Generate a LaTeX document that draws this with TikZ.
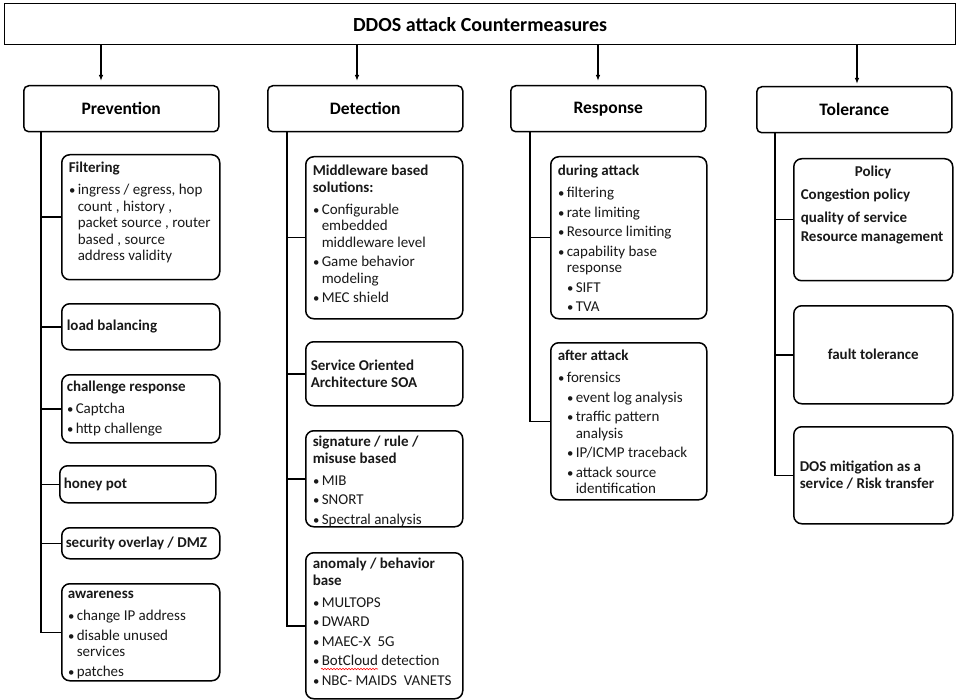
\documentclass[tikz,border=0pt]{standalone}
\usepackage{fontspec}
\setmainfont{Carlito}
\usetikzlibrary{arrows.meta,calc,decorations.pathmorphing}

% top-aligned box content: [leftskip]{width}{height}{first baseline}{content}
\newcommand{\cbox}[5][7]{\parbox[c][#3pt][t]{#2pt}{\fontsize{15pt}{16.5pt}\selectfont\raggedright\let\\\newline
  \setlength{\parskip}{3pt}\setlength{\leftskip}{#1pt}\leavevmode\rule{0pt}{#4pt}#5}}
% vertically centred box content: [leftskip]{width}{height}{content}
\newcommand{\mbx}[4][5]{\parbox[c][#3pt][c]{#2pt}{\fontsize{15pt}{16.5pt}\selectfont\bfseries\raggedright
  \setlength{\leftskip}{#1pt}#4}}
\newcommand{\bdot}{\makebox[9pt][l]{\hspace{0.3pt}\scalebox{0.85}{\textbullet}}}
\newcommand{\bh}[1]{\textbf{#1}\par\vspace{2.5pt}}
\newcommand{\bi}[1]{\par\hangindent=9pt\hangafter=1\leavevmode\bdot#1\par}
\newcommand{\bii}[1]{\par\hangindent=18pt\hangafter=1\leavevmode\hspace*{9pt}\bdot#1\par}

\begin{document}
\begin{tikzpicture}[x=1pt,y=-1pt,
  sub/.style={draw, line width=1.5pt, rounded corners=8pt, inner sep=0pt, anchor=north west, text=black!90},
  cat/.style={draw, line width=1.5pt, rounded corners=5pt, minimum width=195pt, minimum height=46pt,
    inner sep=0pt, anchor=north west, font=\fontsize{17.5pt}{20pt}\selectfont\bfseries},
  arr/.style={-{Latex[length=6pt,width=4.5pt]}, line width=1.3pt, shorten >=4pt},
  conn/.style={line width=1.5pt}]
\useasboundingbox (0,0) rectangle (957,700);
\fill[white] (0,0) rectangle (957,700);

% title
\node[draw, line width=1.3pt, minimum width=951pt, minimum height=41pt, inner sep=0pt, anchor=north west,
  font=\fontsize{20pt}{24pt}\selectfont\bfseries] (title) at (4,3) {DDOS attack Countermeasures};

% categories
\node[cat] (prev) at (23,85) {Prevention};
\node[cat] (det)  at (267,85) {Detection};
\node[cat] (resp) at (510,85) {Response};
\node[cat] (tol)  at (756,86) {Tolerance};

\coordinate (a1) at ([xshift=78pt]prev.north west);
\coordinate (a2) at ([xshift=90pt]det.north west);
\coordinate (a3) at ([xshift=88pt]resp.north west);
\coordinate (a4) at ([xshift=101pt]tol.north west);
\foreach \a in {a1,a2,a3} \draw[arr] (\a |- title.south) -- (\a);
\draw[arr, shorten >=2pt] (a4 |- title.south) -- (a4);

% Prevention
\node[sub] (filt) at (61,154) {\cbox{158}{125}{18}{\bh{Filtering}\bi{ingress / egress, hop\\count , history ,\\packet source , router\\based , source\\address validity}}};
\node[sub] (load) at (61,303) {\mbx{158}{46}{load balancing}};
\node[sub] (chal) at (61,374) {\cbox[5]{158}{68}{17}{\bh{challenge response}\bi{Captcha}\bi{http challenge}}};
\node[sub] (honey) at (59,465) {\mbx[4]{156}{37}{honey pot}};
\node[sub] (sec) at (61,527) {\mbx[4]{158}{31}{security overlay / DMZ}};
\node[sub] (aware) at (61,583) {\cbox[6]{158}{97}{15}{\bh{awareness}\bi{change IP address}\bi{disable unused\\services}\bi{patches}}};

% Detection
\node[sub] (mid) at (305,156) {\cbox{157}{162}{19}{\bh{Middleware based\\solutions:}\bi{Configurable\\embedded\\middleware level}\bi{Game behavior\\modeling}\bi{MEC shield}}};
\node[sub] (soa) at (305,341) {\mbx{157}{64}{Service Oriented\\Architecture SOA}};
\node[sub] (sig) at (305,430) {\cbox{157}{96}{16}{\bh{signature / rule /\\misuse based}\bi{MIB}\bi{SNORT}\bi{Spectral analysis}}};
\node[sub] (anom) at (305,552) {\cbox{157}{146}{16}{\bh{anomaly / behavior\\base}\bi{MULTOPS}\bi{DWARD}\bi{MAEC-X\ \ 5G}\bi{BotCloud detection}\bi{NBC- MAIDS\ \ VANETS}}};
\draw[red, line width=0.6pt, decorate, decoration={snake, amplitude=0.7pt, segment length=3pt}]
  ($(anom.north west)+(16,117)$) -- ($(anom.north west)+(73,117)$);

% Response
\node[sub] (dur) at (550,156) {\cbox{156}{162}{19}{\bh{during attack}\bi{filtering}\bi{rate limiting}\bi{Resource limiting}\bi{capability base\\response}\bii{SIFT}\bii{TVA}}};
\node[sub] (aft) at (550,342) {\cbox{156}{157}{18}{\bh{after attack}\bi{forensics}\bii{event log analysis}\bii{traffic pattern\\analysis}\bii{IP/ICMP traceback}\bii{attack source\\identification}}};

% Tolerance
\node[sub] (pol) at (793,158) {\cbox{159}{122}{18}{\bfseries\hspace*{54pt}Policy\par\vspace{3pt}Congestion policy\par\vspace{3.5pt}quality of service\par Resource management}};
\node[sub] (fault) at (793,305) {\parbox[c][98pt][c]{159pt}{\fontsize{15pt}{16.5pt}\selectfont\bfseries\centering fault tolerance}};
\node[sub] (dos) at (793,426) {\mbx[6]{159}{97}{DOS mitigation as a\\service / Risk transfer}};

% connectors
\coordinate (p0) at ([xshift=18pt]prev.south west);
\coordinate (d0) at ([xshift=20pt]det.south west);
\coordinate (r0) at ([xshift=20pt]resp.south west);
\coordinate (t0) at ([xshift=19pt]tol.south west);

\draw[conn] (p0) |- (aware.west);
\foreach \n in {filt,load,chal,honey,sec} \draw[conn] (\n.west -| p0) -- (\n.west);
\draw[conn] (d0) |- (anom.west);
\foreach \n in {mid,soa,sig} \draw[conn] (\n.west -| d0) -- (\n.west);
\draw[conn] (r0) |- (aft.west);
\draw[conn] (dur.west -| r0) -- (dur.west);
\draw[conn] (t0) |- (dos.west);
\foreach \n in {pol,fault} \draw[conn] (\n.west -| t0) -- (\n.west);
\end{tikzpicture}
\end{document}
